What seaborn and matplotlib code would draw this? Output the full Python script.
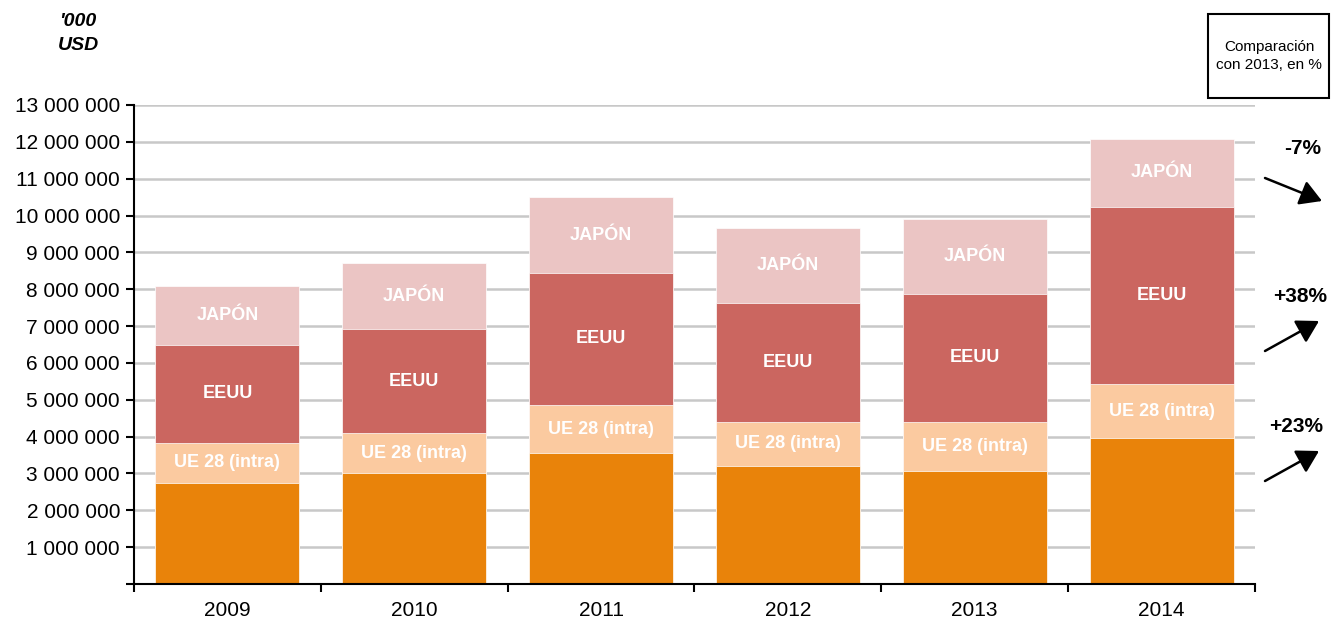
import numpy as np
import pandas as pd
import matplotlib
matplotlib.use("Agg")
import matplotlib.pyplot as plt
import matplotlib.patches as mpatches
import seaborn as sns

# data ('000 USD)
years = ["2009", "2010", "2011", "2012", "2013", "2014"]
resto = [2750000, 3000000, 3550000, 3200000, 3070000, 3950000]
ue28 = [1080000, 1090000, 1310000, 1200000, 1330000, 1470000]
eeuu = [2660000, 2830000, 3590000, 3230000, 3470000, 4820000]
japon = [1600000, 1790000, 2040000, 2030000, 2030000, 1830000]

seg_colors = ["#E9830A", "#FBCAA0", "#CB6660", "#EBC5C4"]
seg_labels = [None, "UE 28 (intra)", "EEUU", "JAPÓN"]
changes = ["-7%", "+38%", "+23%"]

df = pd.DataFrame({"year": years, "resto": resto, "ue28": ue28,
                   "eeuu": eeuu, "japon": japon})
cols = ["resto", "ue28", "eeuu", "japon"]
cum = df[cols].cumsum(axis=1)

sns.set_style("white")
plt.rcParams["font.family"] = ["Liberation Sans", "DejaVu Sans"]
plt.rcParams["text.color"] = "black"
plt.rcParams["xtick.color"] = "black"
plt.rcParams["ytick.color"] = "black"
plt.rcParams["xtick.labelcolor"] = "black"
plt.rcParams["ytick.labelcolor"] = "black"

fig = plt.figure(figsize=(13.31, 6.19), dpi=100)
ax = fig.add_axes([134 / 1331, 35 / 619, (1255 - 134) / 1331, (584 - 105) / 619])

# stacked bars: draw cumulative totals from top segment down
for i in range(len(cols) - 1, -1, -1):
    sns.barplot(x=df["year"], y=cum[cols[i]], color=seg_colors[i],
                width=0.77, saturation=1, ax=ax, zorder=2,
                edgecolor="white", linewidth=0.5)

# labels in the middle of each segment
for i, c in enumerate(cols):
    if seg_labels[i] is None:
        continue
    lower = cum[cols[i - 1]] if i > 0 else 0
    mids = lower + df[c] / 2
    for x, m in enumerate(mids):
        ax.text(x, m, seg_labels[i], ha="center", va="center", color="white",
                fontsize=13, fontweight="bold", zorder=3)

ax.set_ylim(0, 13000000)
ax.set_xlim(-0.5, len(years) - 0.5)
ax.set_yticks(np.arange(0, 13000001, 1000000))
ax.set_yticklabels([""] + [f"{int(v):,}".replace(",", " ")
                           for v in np.arange(1000000, 13000001, 1000000)])
ax.yaxis.grid(True, color="#C8C8C8", linewidth=1.8, zorder=0)
ax.set_axisbelow(True)
ax.set_xlabel("")
ax.set_ylabel("")

ax.tick_params(axis="y", direction="out", length=6, width=1.5, colors="black",
               labelsize=15, pad=4, left=True)
ax.tick_params(axis="x", which="major", length=0, labelsize=15, pad=12,
               labelcolor="black")
ax.set_xticks(np.arange(-0.5, len(years), 1), minor=True)
ax.tick_params(axis="x", which="minor", direction="out", length=6, width=1.5,
               bottom=True, color="black")

for s in ["top", "right"]:
    ax.spines[s].set_visible(False)
for s in ["left", "bottom"]:
    ax.spines[s].set_color("black")
    ax.spines[s].set_linewidth(1.5)

# unit label
fig.text(78 / 1331, 1 - 22 / 619, "'000", ha="center", va="center",
         fontsize=14, fontweight="bold", fontstyle="italic")
fig.text(78 / 1331, 1 - 46 / 619, "USD", ha="center", va="center",
         fontsize=14, fontweight="bold", fontstyle="italic")

# comparison box
box = mpatches.Rectangle((1208 / 1331, 1 - 98 / 619), 121 / 1331, 84 / 619,
                         transform=fig.transFigure, fill=False,
                         edgecolor="black", linewidth=1.5)
fig.patches.append(box)
fig.text(1269 / 1331, 1 - 56 / 619, "Comparación\ncon 2013, en %", ha="center",
         va="center", fontsize=11, linespacing=1.3)

# change arrows
ann_text_pos = [(1303, 148), (1300, 296), (1296, 426)]
arrows = [((1265, 178), (1322, 201)), ((1265, 351), (1319, 321)),
          ((1265, 481), (1319, 451))]
for lab, (tx, ty), (a0, a1) in zip(changes, ann_text_pos, arrows):
    fig.text(tx / 1331, 1 - ty / 619, lab, ha="center", va="center",
             fontsize=15, fontweight="bold")
    ax.annotate("", xy=(a1[0] / 1331, 1 - a1[1] / 619),
                xytext=(a0[0] / 1331, 1 - a0[1] / 619),
                xycoords="figure fraction", textcoords="figure fraction",
                arrowprops=dict(arrowstyle="-|>,head_length=0.6,head_width=0.35",
                                color="black", lw=1.8,
                                mutation_scale=22, shrinkA=0, shrinkB=0),
                annotation_clip=False)

fig.savefig("out.png", dpi=100)
